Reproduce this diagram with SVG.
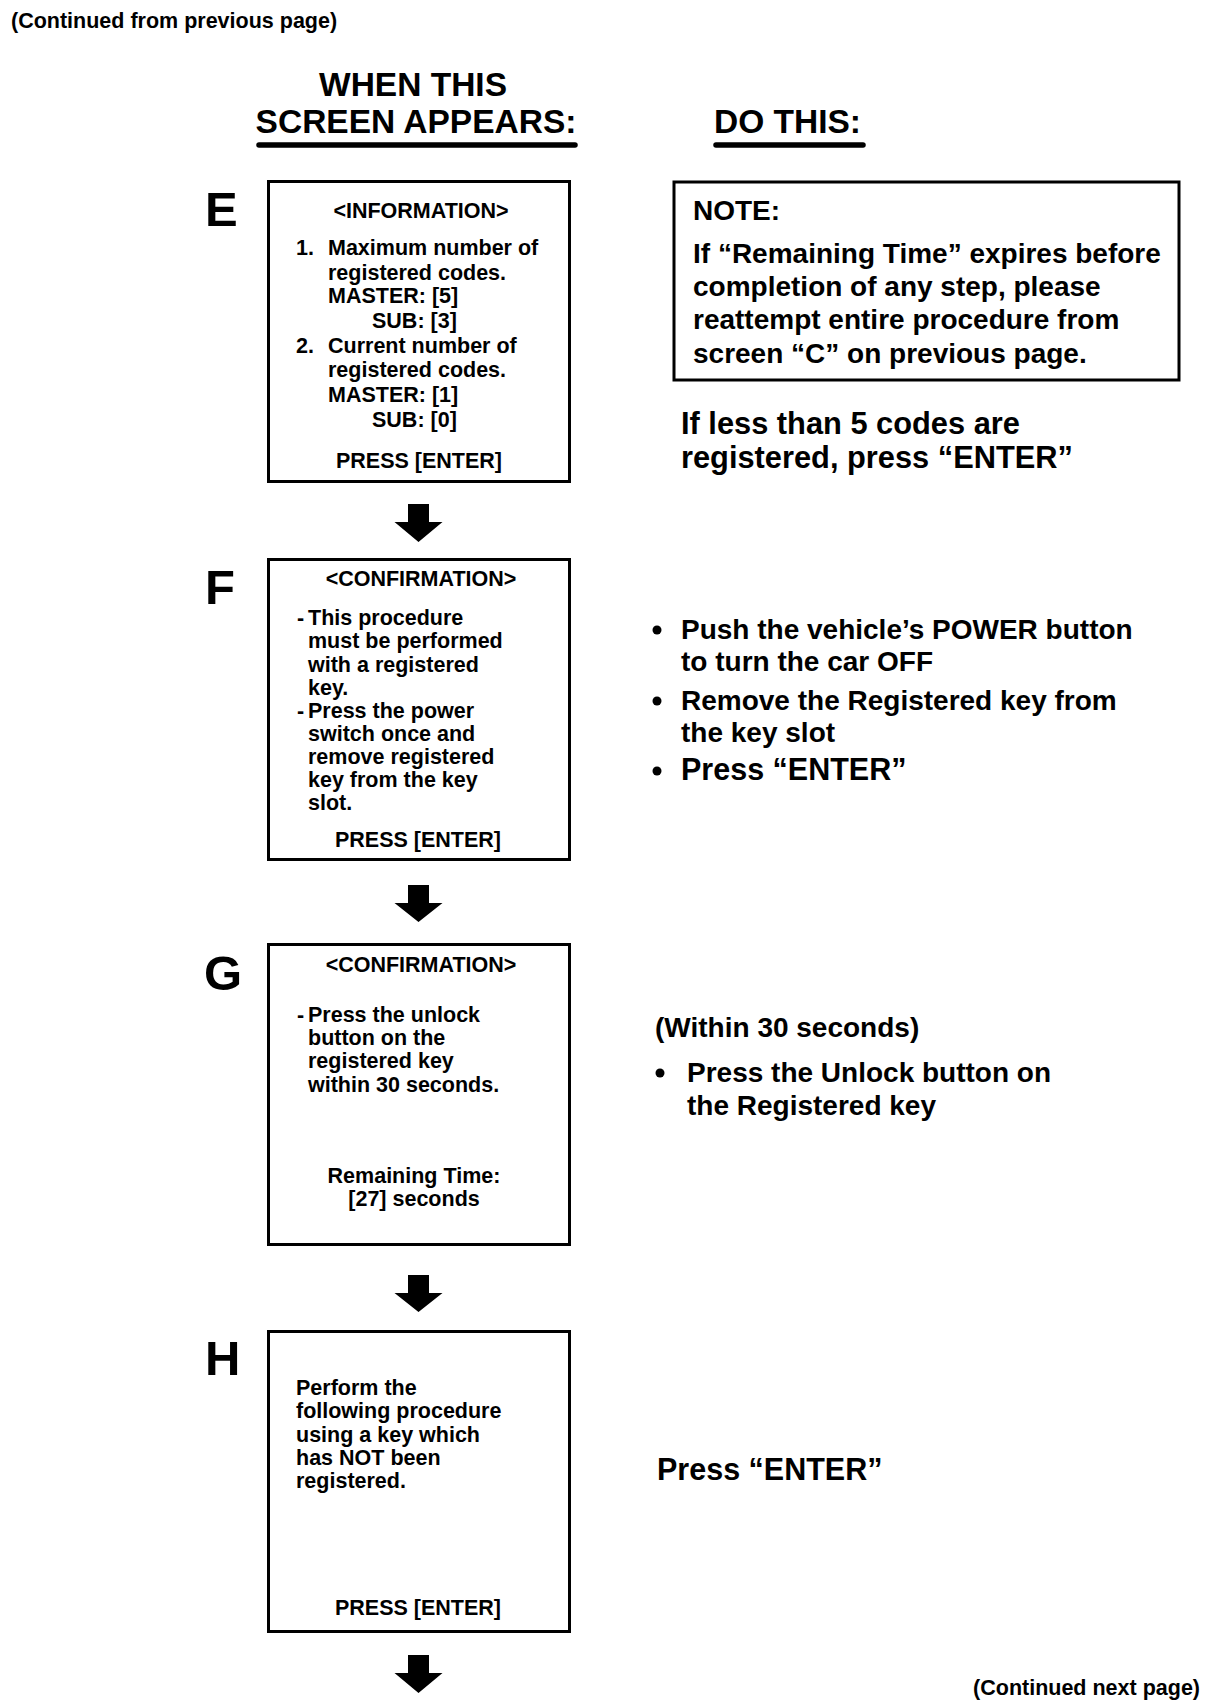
<svg xmlns="http://www.w3.org/2000/svg" width="1216" height="1708" viewBox="0 0 1216 1708">
<style>
text{font-family:"Liberation Sans",Arial,Helvetica,sans-serif;font-weight:bold;fill:#000}
.box{fill:#fff;stroke:#000;stroke-width:3}
.s21{font-size:21.5px}
.s28{font-size:28px}
.s29{font-size:30.5px}
.s30{font-size:30.8px}
.big{font-size:49px}
.title{font-size:33.5px}
.m{text-anchor:middle}
.e{text-anchor:end}
.ul{stroke:#000;stroke-width:5.5;stroke-linecap:round}
.arrow{fill:#000}
.dot{fill:#000}
</style>
<rect width="1216" height="1708" fill="#fff"/>
<g id="header">
<text class="s21" x="11" y="28">(Continued from previous page)</text>
<text class="title m" x="413" y="96">WHEN THIS</text>
<text class="title m" x="416" y="133">SCREEN APPEARS:</text>
<line class="ul" x1="259" y1="145" x2="575" y2="145"/>
<text class="title" x="714" y="133">DO THIS:</text>
<line class="ul" x1="716" y1="145" x2="863" y2="145"/>
</g>
<g id="connectors">
<path class="arrow" d="M408,504 H429 V522 H442.5 L418.5,542 L394.5,522 H408 Z"/>
<path class="arrow" d="M408,885 H429 V903 H442.5 L418.5,922 L394.5,903 H408 Z"/>
<path class="arrow" d="M408,1275 H429 V1293 H442.5 L418.5,1312 L394.5,1293 H408 Z"/>
<path class="arrow" d="M408,1655 H429 V1673 H442.5 L418.5,1693 L394.5,1673 H408 Z"/>
</g>
<g id="screen-E">
<text class="big" x="205" y="226">E</text>
<rect class="box" x="268.5" y="181.5" width="301" height="300"/>
<text class="s21 m" x="421" y="218">&lt;INFORMATION&gt;</text>
<text class="s21" x="296" y="255">1.</text>
<text class="s21" x="328" y="255">Maximum number of</text>
<text class="s21" x="328" y="280">registered codes.</text>
<text class="s21" x="328" y="303">MASTER: [5]</text>
<text class="s21" x="372" y="328">SUB: [3]</text>
<text class="s21" x="296" y="353">2.</text>
<text class="s21" x="328" y="353">Current number of</text>
<text class="s21" x="328" y="377">registered codes.</text>
<text class="s21" x="328" y="402">MASTER: [1]</text>
<text class="s21" x="372" y="427">SUB: [0]</text>
<text class="s21 m" x="419" y="468">PRESS [ENTER]</text>
</g>
<g id="note">
<rect class="box" x="674" y="182" width="505" height="198"/>
<text class="s28" x="693" y="220">NOTE:</text>
<text class="s28" x="693" y="263">If “Remaining Time” expires before</text>
<text class="s28" x="693" y="296">completion of any step, please</text>
<text class="s28" x="693" y="329">reattempt entire procedure from</text>
<text class="s28" x="693" y="363">screen “C” on previous page.</text>
</g>
<g id="action-E">
<text class="s30" x="681" y="434">If less than 5 codes are</text>
<text class="s30" x="681" y="468">registered, press “ENTER”</text>
</g>
<g id="screen-F">
<text class="big" x="205" y="604">F</text>
<rect class="box" x="268.5" y="559.5" width="301" height="300"/>
<text class="s21 m" x="421" y="586">&lt;CONFIRMATION&gt;</text>
<text class="s21" x="297" y="625">-</text>
<text class="s21" x="308" y="625">This procedure</text>
<text class="s21" x="308" y="648">must be performed</text>
<text class="s21" x="308" y="671.5">with a registered</text>
<text class="s21" x="308" y="695">key.</text>
<text class="s21" x="297" y="718">-</text>
<text class="s21" x="308" y="718">Press the power</text>
<text class="s21" x="308" y="741">switch once and</text>
<text class="s21" x="308" y="764">remove registered</text>
<text class="s21" x="308" y="787">key from the key</text>
<text class="s21" x="308" y="810">slot.</text>
<text class="s21 m" x="418" y="847">PRESS [ENTER]</text>
</g>
<g id="action-F">
<circle class="dot" cx="657" cy="630" r="4.5"/>
<text class="s28" x="681" y="639">Push the vehicle’s POWER button</text>
<text class="s28" x="681" y="671">to turn the car OFF</text>
<circle class="dot" cx="657" cy="701" r="4.5"/>
<text class="s28" x="681" y="710">Remove the Registered key from</text>
<text class="s28" x="681" y="742">the key slot</text>
<circle class="dot" cx="657" cy="771" r="4.5"/>
<text class="s29" x="681" y="780">Press “ENTER”</text>
</g>
<g id="screen-G">
<text class="big" x="204" y="990">G</text>
<rect class="box" x="268.5" y="944.5" width="301" height="300"/>
<text class="s21 m" x="421" y="972">&lt;CONFIRMATION&gt;</text>
<text class="s21" x="297" y="1022">-</text>
<text class="s21" x="308" y="1022">Press the unlock</text>
<text class="s21" x="308" y="1045">button on the</text>
<text class="s21" x="308" y="1068">registered key</text>
<text class="s21" x="308" y="1092">within 30 seconds.</text>
<text class="s21 m" x="414" y="1183">Remaining Time:</text>
<text class="s21 m" x="414" y="1206">[27] seconds</text>
</g>
<g id="action-G">
<text class="s28" x="655" y="1037">(Within 30 seconds)</text>
<circle class="dot" cx="660" cy="1073" r="4.5"/>
<text class="s28" x="687" y="1082">Press the Unlock button on</text>
<text class="s28" x="687" y="1115">the Registered key</text>
</g>
<g id="screen-H">
<text class="big" x="205" y="1375">H</text>
<rect class="box" x="268.5" y="1331.5" width="301" height="300"/>
<text class="s21" x="296" y="1395">Perform the</text>
<text class="s21" x="296" y="1418">following procedure</text>
<text class="s21" x="296" y="1442">using a key which</text>
<text class="s21" x="296" y="1465">has NOT been</text>
<text class="s21" x="296" y="1488">registered.</text>
<text class="s21 m" x="418" y="1615">PRESS [ENTER]</text>
</g>
<g id="action-H">
<text class="s29" x="657" y="1480">Press “ENTER”</text>
</g>
<g id="footer">
<text class="s21 e" x="1200" y="1695">(Continued next page)</text>
</g>
</svg>
